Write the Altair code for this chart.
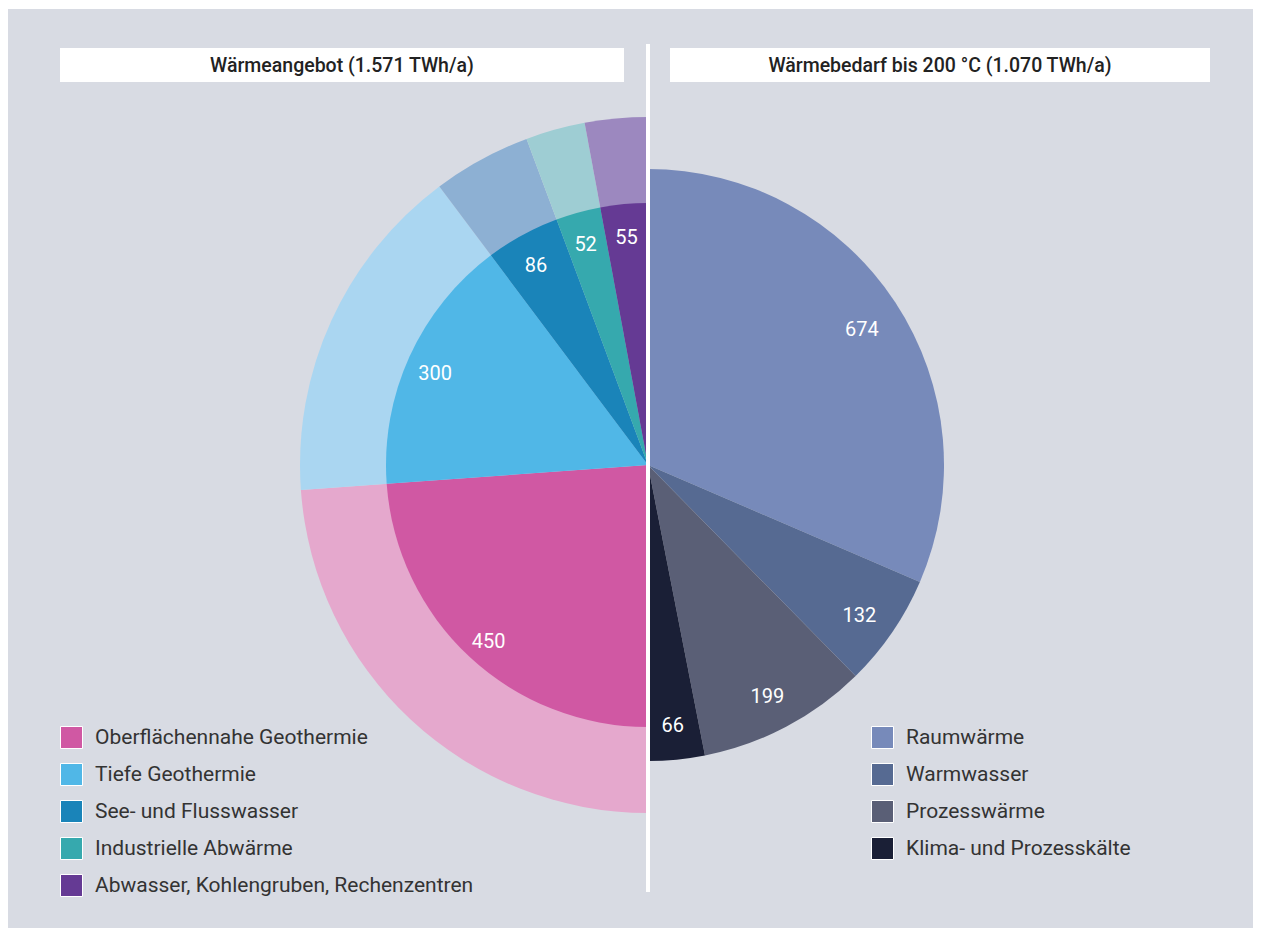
import math
import altair as alt
import pandas as pd

# ---------------- data ----------------
left_categories = [
    "Oberflächennahe Geothermie",
    "Tiefe Geothermie",
    "See- und Flusswasser",
    "Industrielle Abwärme",
    "Abwasser, Kohlengruben, Rechenzentren",
]
left_values = [450, 300, 86, 52, 55]
left_colors = ["#d058a3", "#50b7e7", "#1a84b9", "#36a9ae", "#653a94"]
left_outer_colors = ["#e5a8cd", "#aad6f1", "#8db0d3", "#9ecdd3", "#9c88bf"]

right_categories = ["Raumwärme", "Warmwasser", "Prozesswärme", "Klima- und Prozesskälte"]
right_values = [674, 132, 199, 66]
right_colors = ["#778aba", "#566a92", "#5a5f76", "#1a1f36"]

panel_titles = ["Wärmeangebot (1.571 TWh/a)", "Wärmebedarf bis 200 °C (1.070 TWh/a)"]

# ---------------- styling ----------------
FONT = "Roboto"
BG = "#d8dbe3"
W, H = 1245, 920
CX, CY = 640, 457

left_df = pd.DataFrame({
    "kategorie": left_categories,
    "wert": left_values,
    "idx": list(range(len(left_values))),
})
left_df["label"] = left_df["wert"].astype(str)

right_df = pd.DataFrame({
    "kategorie": right_categories,
    "wert": right_values,
    "idx": list(range(len(right_values))),
})
right_df["label"] = right_df["wert"].astype(str)

one = pd.DataFrame({"_": [0]})

left_theta = alt.Theta(
    "wert:Q", stack=True,
    scale=alt.Scale(domain=[0, sum(left_values)], range=[math.pi, 2 * math.pi]),
)
right_theta = alt.Theta(
    "wert:Q", stack=True,
    scale=alt.Scale(domain=[0, sum(right_values)], range=[0, math.pi]),
)
order = alt.Order("idx:Q", sort="ascending")


def legend(x):
    return alt.Legend(
        orient="none", legendX=x, legendY=718, direction="vertical", title=None,
        symbolType="square", symbolSize=484, symbolStrokeColor="white",
        symbolStrokeWidth=1, symbolOpacity=1,
        labelFont=FONT, labelFontSize=21, labelColor="#333333",
        labelOffset=12, labelLimit=700, rowPadding=10, padding=0,
    )


outer_left = alt.Chart(left_df).mark_arc(radius=348).encode(
    theta=left_theta, order=order,
    color=alt.Color("kategorie:N", scale=alt.Scale(domain=left_categories, range=left_outer_colors), legend=None),
    x=alt.value(CX), y=alt.value(CY),
)
inner_left = alt.Chart(left_df).mark_arc(radius=262).encode(
    theta=left_theta, order=order,
    color=alt.Color("kategorie:N", scale=alt.Scale(domain=left_categories, range=left_colors), legend=legend(52)),
    x=alt.value(CX), y=alt.value(CY),
)
text_left = alt.Chart(left_df).mark_text(
    radius=234, dy=6, font=FONT, fontSize=20, color="white", align="center", baseline="middle"
).encode(theta=left_theta, order=order, text="label:N", x=alt.value(CX), y=alt.value(CY))

arc_right = alt.Chart(right_df).mark_arc(radius=296).encode(
    theta=right_theta, order=order,
    color=alt.Color("kategorie:N", scale=alt.Scale(domain=right_categories, range=right_colors), legend=legend(863)),
    x=alt.value(CX), y=alt.value(CY),
)
text_right = alt.Chart(right_df).mark_text(
    radius=256, dy=6, font=FONT, fontSize=20, color="white", align="center", baseline="middle"
).encode(theta=right_theta, order=order, text="label:N", x=alt.value(CX), y=alt.value(CY))

divider = alt.Chart(one).mark_rule(color="white", strokeWidth=4).encode(
    x=alt.value(CX), y=alt.value(36), y2=alt.value(884)
)
top_line = alt.Chart(one).mark_rule(color="white", strokeWidth=2).encode(
    x=alt.value(0), x2=alt.value(W), y=alt.value(0)
)
box_left = alt.Chart(one).mark_rect(color="white").encode(
    x=alt.value(52), x2=alt.value(616), y=alt.value(40), y2=alt.value(74)
)
box_right = alt.Chart(one).mark_rect(color="white").encode(
    x=alt.value(662), x2=alt.value(1202), y=alt.value(40), y2=alt.value(74)
)
title_style = dict(font=FONT, fontSize=19.5, fontWeight=500, color="#222222", align="center", baseline="middle")
title_left = alt.Chart(one).mark_text(**title_style).encode(
    x=alt.value(334), y=alt.value(58), text=alt.value(panel_titles[0])
)
title_right = alt.Chart(one).mark_text(**title_style).encode(
    x=alt.value(932), y=alt.value(58), text=alt.value(panel_titles[1])
)

chart = alt.layer(
    outer_left, inner_left, text_left, arc_right, text_right,
    divider, top_line, box_left, box_right, title_left, title_right,
).resolve_scale(
    theta="independent", color="independent"
).properties(
    width=W, height=H, background=BG, padding=0, autosize="none"
).configure_view(stroke=None)

chart.save("out.html", embed_options={"renderer": "svg", "actions": False})
